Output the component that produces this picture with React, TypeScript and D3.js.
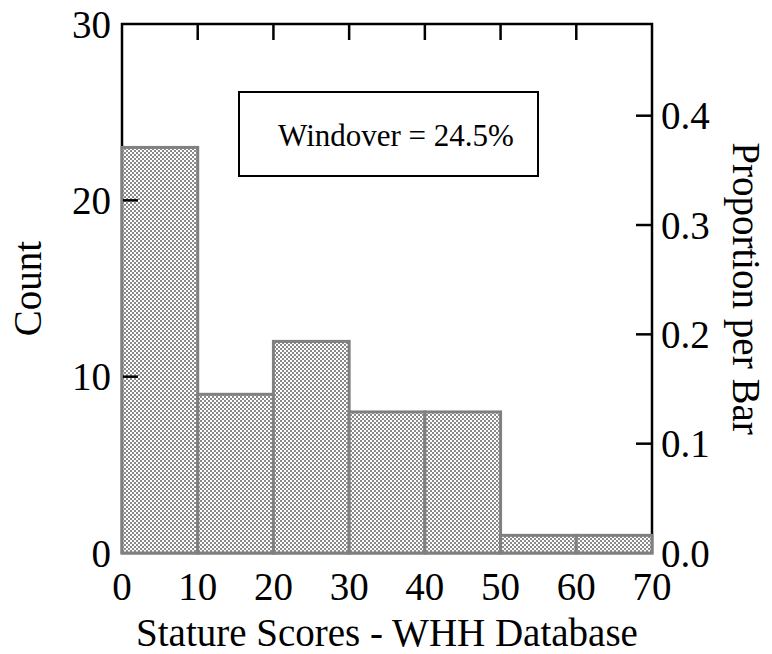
import { scaleLinear } from "d3";

const binStarts = [0, 10, 20, 30, 40, 50, 60];
const binWidth = 10;
const counts = [23, 9, 12, 8, 8, 1, 1];
const xTicks = [0, 10, 20, 30, 40, 50, 60, 70];
const countTicks = [0, 10, 20, 30];
const propTicks = [0.0, 0.1, 0.2, 0.3, 0.4];
const legendText = "Windover = 24.5%";

const width = 772;
const height = 654;
const left = 122;
const right = 652;
const top = 24;
const bottom = 553;
const tickLen = 16;
const font = "'Liberation Serif', 'Times New Roman', serif";

export default function App() {
  const total = counts.reduce((a, b) => a + b, 0);
  const x = scaleLinear().domain([0, 70]).range([left, right]);
  const y = scaleLinear().domain([0, 30]).range([bottom, top]);
  const yProp = scaleLinear().domain([0, 30 / total]).range([bottom, top]);

  return (
    <svg
      width={width}
      height={height}
      style={{ position: "absolute", left: 0, top: 0, background: "#fff" }}
      fontFamily={font}
    >
      <defs>
        <pattern id="hatch" width={4} height={4} patternUnits="userSpaceOnUse">
          <rect width={4} height={4} fill="#fff" />
          <rect x={0} y={0} width={2} height={2} fill="#8a8a8a" />
          <rect x={2} y={2} width={2} height={2} fill="#8a8a8a" />
        </pattern>
      </defs>

      {/* frame */}
      <rect
        x={left}
        y={top}
        width={right - left}
        height={bottom - top}
        fill="none"
        stroke="#000"
        strokeWidth={2.5}
      />

      {/* ticks: top and bottom */}
      {xTicks.slice(1, -1).map(t => (
        <g key={"xt" + t}>
          <line x1={x(t)} x2={x(t)} y1={top} y2={top + tickLen} stroke="#000" strokeWidth={2.5} />
          <line x1={x(t)} x2={x(t)} y1={bottom} y2={bottom - tickLen} stroke="#000" strokeWidth={2.5} />
        </g>
      ))}
      {propTicks.slice(1).map(t => (
        <line key={"pt" + t} x1={right} x2={right - tickLen} y1={yProp(t)} y2={yProp(t)} stroke="#000" strokeWidth={2.5} />
      ))}

      {/* bars */}
      {binStarts.map((b, i) => (
        <rect
          key={"bar" + b}
          x={x(b)}
          y={y(counts[i])}
          width={x(b + binWidth) - x(b)}
          height={y(0) - y(counts[i])}
          fill="url(#hatch)"
          stroke="#808080"
          strokeWidth={3}
        />
      ))}

      {/* left ticks sit on top of the bars */}
      {countTicks.slice(1, -1).map(t => (
        <line key={"yt" + t} x1={left + 1} x2={left + tickLen} y1={y(t)} y2={y(t)} stroke="#000" strokeWidth={2.5} />
      ))}

      {/* tick labels */}
      {xTicks.map(t => (
        <text key={"xl" + t} x={x(t)} y={600} textAnchor="middle" fontSize={39}>
          {t}
        </text>
      ))}
      {countTicks.map(t => (
        <text key={"yl" + t} x={111} y={y(t)} dy="0.35em" textAnchor="end" fontSize={39}>
          {t}
        </text>
      ))}
      {propTicks.map(t => (
        <text key={"pl" + t} x={661} y={yProp(t)} dy="0.35em" textAnchor="start" fontSize={39}>
          {t.toFixed(1)}
        </text>
      ))}

      {/* axis titles */}
      <text x={(left + right) / 2} y={646} textAnchor="middle" fontSize={39}>
        Stature Scores - WHH Database
      </text>
      <text
        transform={`translate(41, ${(top + bottom) / 2}) rotate(-90)`}
        textAnchor="middle"
        fontSize={39}
      >
        Count
      </text>
      <text
        transform={`translate(733, ${(top + bottom) / 2}) rotate(90)`}
        textAnchor="middle"
        fontSize={39}
      >
        Proportion per Bar
      </text>

      {/* legend box */}
      <rect x={239} y={92} width={299} height={84} fill="#fff" stroke="#000" strokeWidth={2} />
      <text x={396} y={146} textAnchor="middle" fontSize={31}>
        {legendText}
      </text>
    </svg>
  );
}
